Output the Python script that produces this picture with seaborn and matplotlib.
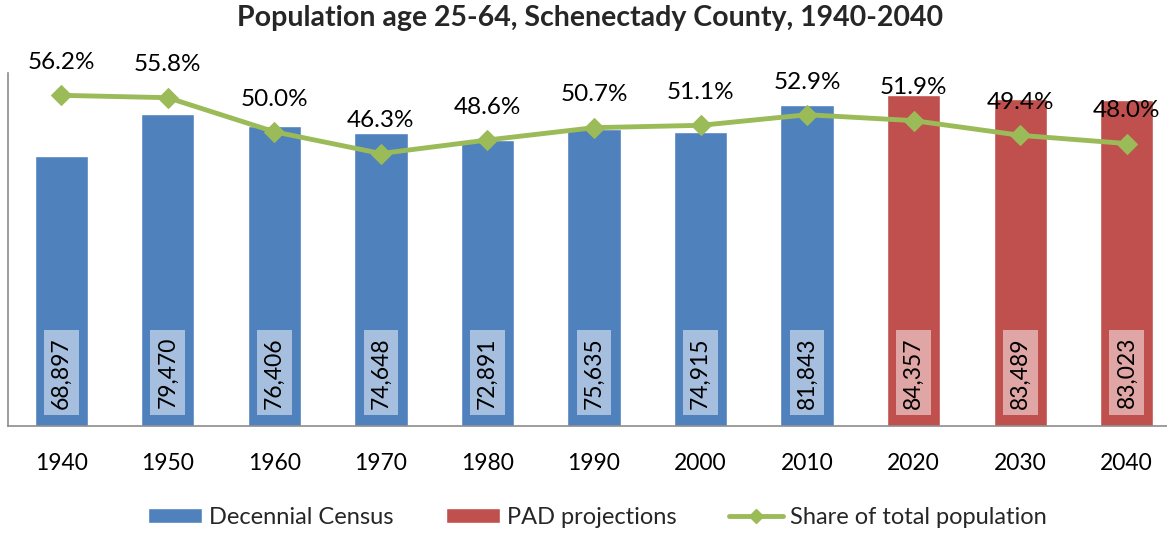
import numpy as np
import pandas as pd
import matplotlib
matplotlib.use('Agg')
import matplotlib.pyplot as plt
import seaborn as sns
from matplotlib.patches import Patch
from matplotlib.lines import Line2D

# data
years = ['1940', '1950', '1960', '1970', '1980', '1990', '2000', '2010', '2020', '2030', '2040']
population = [68897, 79470, 76406, 74648, 72891, 75635, 74915, 81843, 84357, 83489, 83023]
source = ['Decennial Census'] * 8 + ['PAD projections'] * 3
share = [56.2, 55.8, 50.0, 46.3, 48.6, 50.7, 51.1, 52.9, 51.9, 49.4, 48.0]

blue, red, green = '#4F81BD', '#C0504D', '#9BBB59'
box_colors = {'Decennial Census': '#A7BFDE', 'PAD projections': '#E0A6A5'}

sns.set_style('white')
plt.rcParams['font.family'] = ['Lato', 'DejaVu Sans']

df = pd.DataFrame({'year': years, 'pop': population, 'source': source, 'share': share})

fig = plt.figure(figsize=(11.67, 5.33), dpi=100)
ax = fig.add_axes([8 / 1167, 107.3 / 533, 1172 / 1167, 352.7 / 533])

sns.barplot(data=df, x='year', y='pop', hue='source', dodge=False, width=0.5,
            palette={'Decennial Census': blue, 'PAD projections': red},
            saturation=1, legend=False, ax=ax)
ax.set_ylim(0, 90000)
ax.set_xlim(-0.5, 10.5)
ax.set_xlabel('')
ax.set_ylabel('')
ax.set_yticks([])

# value boxes inside bars
for i, (v, s) in enumerate(zip(population, source)):
    ax.text(i, 13500, f'{v:,}', rotation=90, ha='center', va='center', fontsize=16.5,
            color='black',
            bbox=dict(boxstyle='square,pad=0.3', facecolor=box_colors[s], edgecolor='none'))

ax.set_xticks(range(len(years)))
ax.set_xticklabels(years, fontsize=16.5, color='black')
ax.tick_params(axis='x', which='major', length=0, pad=20)
ax.set_xticks(np.arange(-0.5, 11, 1), minor=True)
ax.tick_params(axis='x', which='minor', length=7, color='#8c8c8c', width=1.2, direction='out')
for side in ['top', 'right']:
    ax.spines[side].set_visible(False)
for side in ['left', 'bottom']:
    ax.spines[side].set_color('#8c8c8c')
    ax.spines[side].set_linewidth(1.2)

# share of total population on secondary axis
ax2 = ax.twinx()
sns.lineplot(x=np.arange(len(years)), y=share, color=green, linewidth=3.5,
             marker='D', markersize=10, markeredgecolor=green, ax=ax2)
ax2.set_ylim(0, 60)
ax2.set_yticks([])
ax2.axis('off')
for i, s in enumerate(share):
    ax2.annotate(f'{s:.1f}%', (i, s), xytext=(0, 16), textcoords='offset points',
                 ha='center', va='bottom', fontsize=17.5, color='black')

fig.suptitle('Population age 25-64, Schenectady County, 1940-2040',
             x=0.506, y=0.99, fontsize=20.5, fontweight='bold')

handles = [Patch(facecolor=blue, label='Decennial Census'),
           Patch(facecolor=red, label='PAD projections'),
           Line2D([0], [0], color=green, lw=3.5, marker='D', markersize=7,
                  label='Share of total population')]
fig.legend(handles=handles, loc='center', bbox_to_anchor=(0.512, 0.03), ncol=3,
           frameon=False, fontsize=17, handlelength=2.3, handleheight=0.6,
           handletextpad=0.3, columnspacing=2.2)

fig.savefig('out.png', dpi=100)
